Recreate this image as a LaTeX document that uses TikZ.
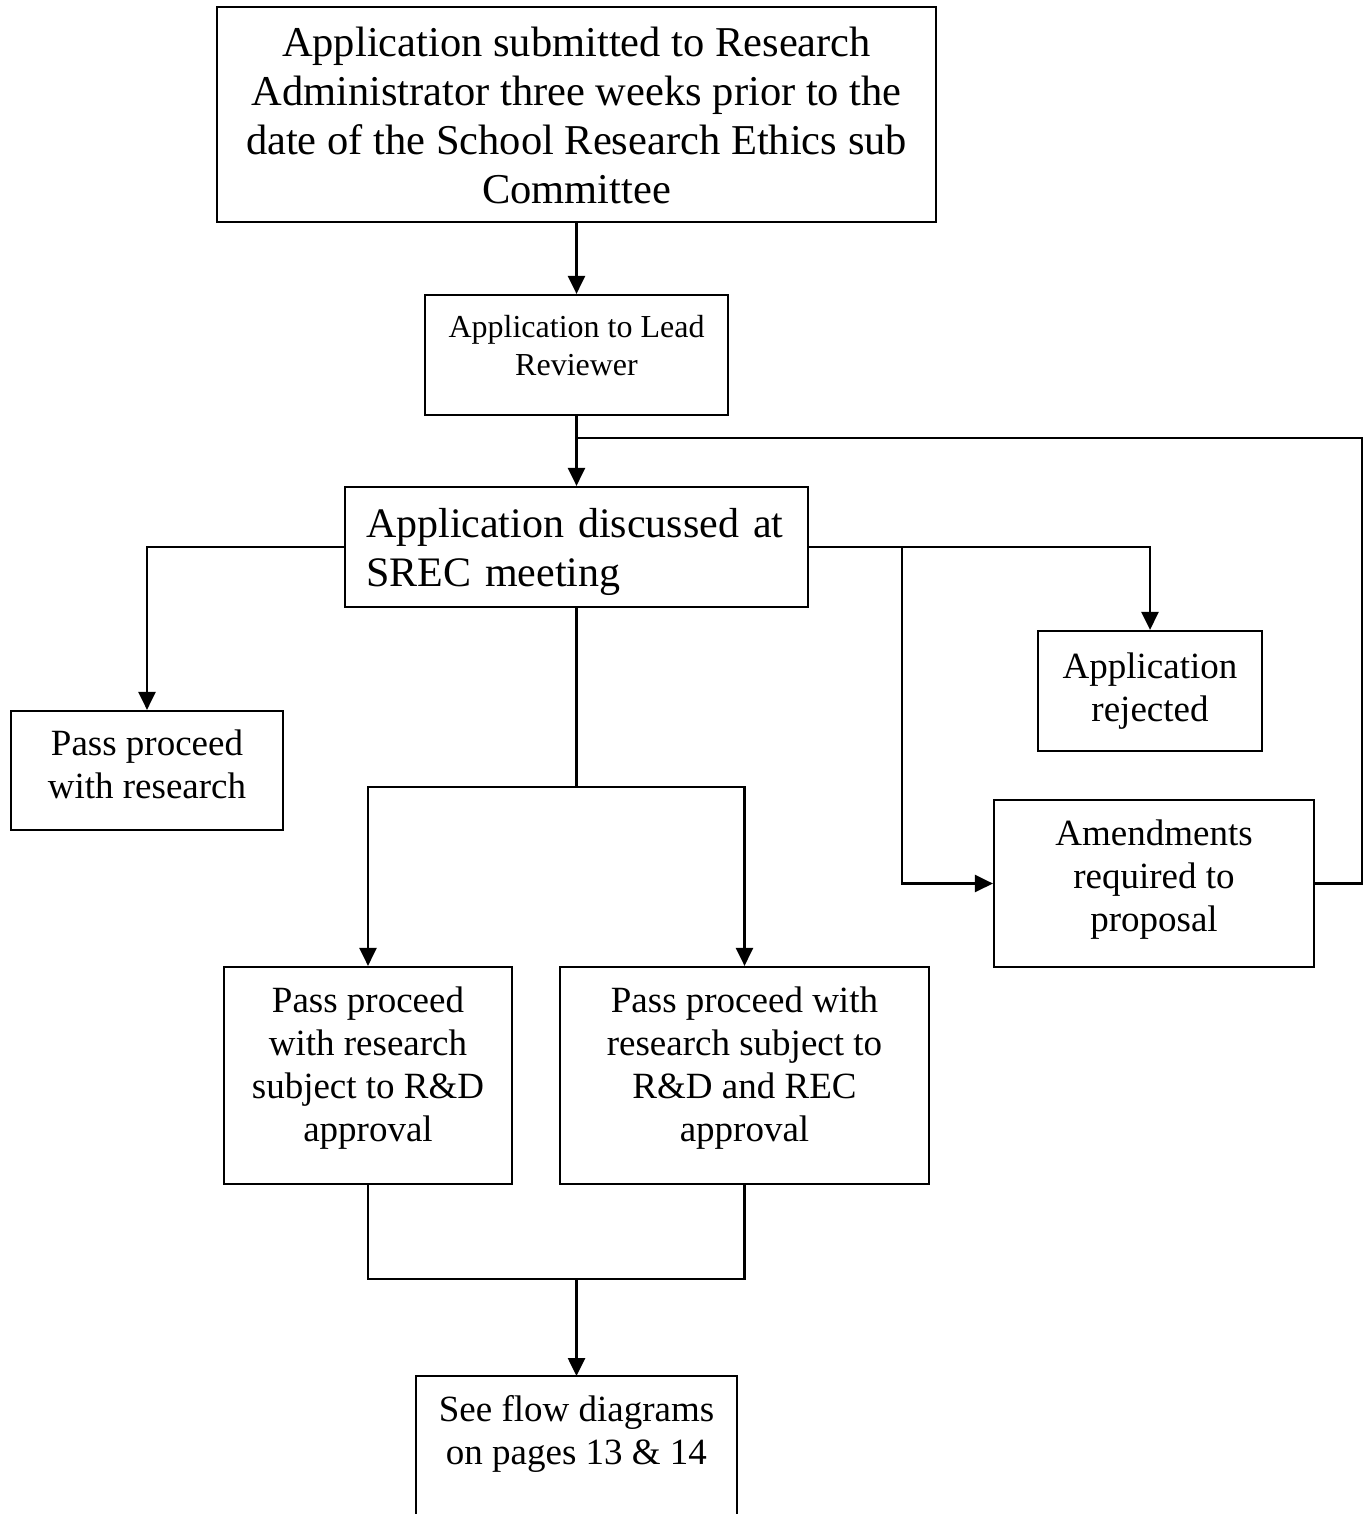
\documentclass[tikz,border=0pt]{standalone}
\usepackage{fontspec}
\setmainfont{Liberation Serif}
\usetikzlibrary{arrows.meta}
% block of lines (alignment #1), raised by #2 and taking no vertical room
\newcommand{\liftblock}[3]{\raisebox{#2}[0pt][0pt]{\begin{tabular}{@{}#1@{}}#3\end{tabular}}}
\newcommand{\lift}[2]{\liftblock{c}{#1}{#2}}
\begin{document}
\begin{tikzpicture}[x=1pt,y=-1pt,
  boxline/.style={line width=2.2pt},
  rbox/.style={draw, boxline, rectangle, inner sep=0pt, align=center},
  big/.style={font=\fontsize{42.5}{48.7}\selectfont},
  mid/.style={font=\fontsize{37}{43}\selectfont},
  small/.style={font=\fontsize{32}{38}\selectfont},
  conn/.style={line width=2.6pt},
  arr/.style={conn, -{Triangle[length=18pt,width=17pt]}},
]
\useasboundingbox[fill=white] (0,0) rectangle (1372,1514);

% boxes
\node[rbox, big, minimum width=719, minimum height=215] (top) at (576.5,114.5)
  {\lift{-12pt}{Application submitted to Research\\Administrator three weeks prior to the\\date of the School Research Ethics sub\\Committee}};
\node[rbox, small, minimum width=303, minimum height=120] (lead) at (576.5,355)
  {\lift{0pt}{Application to Lead\\Reviewer}};
\node[rbox, font=\fontsize{42}{49}\selectfont, text width=421, inner xsep=21pt, align=left, minimum height=120] (srec) at (576.5,547)
  {\liftblock{l}{-11.5pt}{Application discussed at\\SREC meeting}};
\node[rbox, mid, minimum width=272, minimum height=119] (pass) at (147,770.5)
  {\lift{-4.5pt}{Pass proceed\\with research}};
\node[rbox, mid, minimum width=224, minimum height=120] (rej) at (1150,691)
  {Application\\rejected};
\node[rbox, mid, minimum width=320, minimum height=167] (amend) at (1154,883.5)
  {\lift{-3pt}{Amendments\\required to\\proposal}};
\node[rbox, mid, minimum width=288, minimum height=217] (rd) at (368,1075.5)
  {\lift{1pt}{Pass proceed\\with research\\subject to R\&D\\approval}};
\node[rbox, mid, minimum width=369, minimum height=217] (rec) at (744.5,1075.5)
  {\lift{1pt}{Pass proceed with\\research subject to\\R\&D and REC\\approval}};
\node[rbox, draw=none, mid, minimum width=319, minimum height=138, anchor=north] (see) at (576.5,1376)
  {\lift{5.5pt}{See flow diagrams\\on pages 13 \& 14}};
\draw[boxline] (see.south west) -- (see.north west) -- (see.north east) -- (see.south east);

% junction points
\coordinate (j1) at (576.5,438);
\coordinate (fb) at (1362,438);
\coordinate (b1) at (902,547);
\coordinate (c1) at (576.5,787);
\coordinate (c2) at (576.5,1279);

% connectors
\draw[arr] (top) -- (lead);
\draw[arr] (lead) -- (srec);
\draw[conn] (amend.east) -| (fb) -- (j1);
\draw[arr] (srec.west) -| (pass.north);
\draw[arr] (srec.east) -| (rej.north);
\draw[arr] (b1) |- (amend.west);
\draw[conn] (srec.south) -- (c1);
\draw[arr] (c1) -| (rd.north);
\draw[arr] (c1) -| (rec.north);
\draw[conn] (rd.south) |- (c2);
\draw[conn] (rec.south) |- (c2);
\draw[arr] (c2) -- (see.north);
\end{tikzpicture}
\end{document}
